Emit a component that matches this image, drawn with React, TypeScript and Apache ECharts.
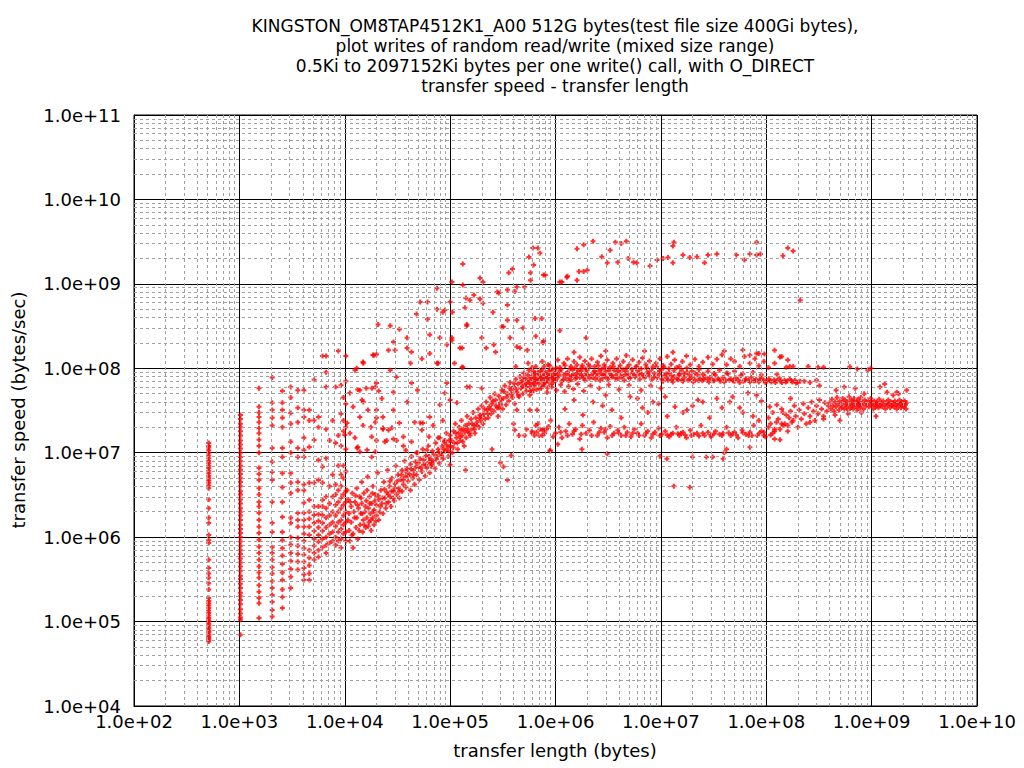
import React, { useEffect, useRef } from "react";
import * as echarts from "echarts";

const titleLines = [
  "KINGSTON_OM8TAP4512K1_A00 512G bytes(test file size 400Gi bytes),",
  "plot writes of random read/write (mixed size range)",
  "0.5Ki to 2097152Ki bytes per one write() call, with O_DIRECT",
  "transfer speed - transfer length",
];
const xAxisName = "transfer length (bytes)";
const yAxisName = "transfer speed (bytes/sec)";
const xMin = 1e2;
const xMax = 1e10;
const yMin = 1e4;
const yMax = 1e11;
const xDecades = [1e2, 1e3, 1e4, 1e5, 1e6, 1e7, 1e8, 1e9];
const yDecades = [1e4, 1e5, 1e6, 1e7, 1e8, 1e9, 1e10];
const minorFactors = [2, 3, 4, 5, 6, 7, 8, 9];

// small fixed transfer lengths (multiples of 512 bytes) and their measured speeds
const fixedLengths = [512, 1024, 1536, 2048, 2560, 3072, 3584, 4096, 4608, 5120, 5632, 6144, 6656, 7168, 7680, 8192, 8704, 9216, 9728, 10240];
const fixedSpeeds: number[][] = [
  [1.3e7, 1.2e7, 1.15e7, 1.07e7, 1e7, 9.3e6, 8.6e6, 8e6, 7.5e6, 7e6, 6.6e6, 6.1e6, 5.7e6, 5.3e6, 5e6, 4.7e6, 4.4e6, 4.1e6, 3.8e6, 2.8e6, 2.2e6, 1.7e6, 1.47e6, 1.06e6, 9.2e5, 8.5e5, 5.4e5, 4.3e5, 3.7e5, 3.3e5, 2.85e5, 2.4e5, 1.9e5, 1.75e5, 1.65e5, 1.55e5, 1.45e5, 1.35e5, 1.26e5, 1.18e5, 1.1e5, 1.04e5, 1e5, 9.4e4, 8.9e4, 8.4e4, 7.9e4, 7.5e4, 7.1e4, 6.7e4, 6.4e4, 6.1e4, 5.8e4],
  [2.8e7, 2.5e7, 2.2e7, 2e7, 1.8e7, 1.6e7, 1.4e7, 1.25e7, 1.12e7, 1e7, 8.9e6, 7.9e6, 7e6, 6.3e6, 5.6e6, 5e6, 4.5e6, 4e6, 3.5e6, 3.2e6, 2.8e6, 2.5e6, 2.2e6, 2e6, 1.8e6, 1.6e6, 1.4e6, 1.25e6, 1.12e6, 1e6, 8.9e5, 7.9e5, 7e5, 6.3e5, 5.6e5, 5e5, 4.5e5, 4e5, 3.5e5, 3.2e5, 2.8e5, 2.5e5, 2.2e5, 2e5, 1.8e5, 1.6e5, 1.4e5, 1.25e5, 1.12e5, 1.05e5, 7e4],
  [5.8e7, 3.5e7, 3e7, 2.65e7, 2.3e7, 1.95e7, 1.7e7, 1.42e7, 1.2e7, 1e7, 6.6e6, 5.6e6, 4.75e6, 3.8e6, 3.2e6, 2.6e6, 2.3e6, 1.93e6, 1.6e6, 1.33e6, 1.12e6, 9.3e5, 7.7e5, 6.5e5, 5.4e5, 4.5e5, 3.8e5, 3.3e5, 2.7e5, 2.25e5, 1.9e5, 1.65e5, 1.1e5],
  [7.8e7, 3.9e7, 3.2e7, 2.6e7, 2.1e7, 1.14e7, 7.8e6, 5.9e6, 4.75e6, 2.6e6, 1.47e6, 1.15e6, 7.6e5, 6.5e5, 5.4e5, 4.4e5, 3.7e5, 3e5, 2.5e5, 2.07e5, 1.7e5, 1.37e5, 1.15e5],
  [5.4e7, 3.9e7, 3.2e7, 2.6e7, 2e7, 1.14e7, 8.9e6, 5.7e6, 3.9e6, 2.6e6, 1.73e6, 1.15e6, 9.2e5, 7.4e5, 6e5, 4.8e5, 3.8e5, 3.1e5, 2.4e5, 1.95e5, 1.45e5],
  [6e7, 4.5e7, 2.95e7, 2.2e7, 1.35e7, 1e7, 5.7e6, 4.4e6, 3.3e6, 1.7e6, 1.47e6, 1e6, 8.1e5, 6.5e5, 5.2e5, 4.2e5, 3.4e5, 2.5e5],
  [5.5e7, 3.4e7, 2.3e7, 1.14e7, 8.9e6, 4.5e6, 3.6e6, 1.93e6, 1.6e6, 1.33e6, 9.8e5, 7.9e5, 6.3e5, 5.1e5, 4.1e5],
  [5.5e7, 3.2e7, 2.65e7, 1.5e7, 1.07e7, 8.9e6, 4.2e6, 3.6e6, 2.55e6, 1.93e6, 1.6e6, 1.33e6, 1.1e6, 9e5, 7.4e5, 6.2e5, 5.1e5, 4.3e5, 3.6e5, 3.1e5],
  [3.2e7, 2.4e7, 1.17e7, 4.4e6, 2.75e6, 2e6, 1.65e6, 1.33e6, 1.06e6, 7e5, 5.7e5, 4.6e5, 3.7e5, 3.1e5],
  [7.3e7, 2.4e7, 1.41e7, 4.4e6, 2.3e6, 1.83e6, 1.47e6, 1.18e6, 9.5e5, 7.9e5, 6.5e5, 5.4e5],
  [2.65e7, 2e7, 8.2e6, 4.75e6, 2.3e6, 1.87e6, 1.55e6, 1.3e6, 1.06e6, 8.8e5, 7e5, 5.8e5],
  [1.4e8, 6.8e6, 4.4e6, 2.75e6, 2.3e6, 1.83e6, 1.47e6, 1.18e6, 9.5e5, 7.6e5],
  [1.4e8, 9e7, 6e7, 1.9e7, 8.6e6, 3e6, 2.2e6, 1.7e6, 1.3e6, 1e6, 8e5, 6.5e5],
  [1.4e7, 4e6, 2.5e6, 1.8e6, 1.4e6, 1.1e6, 8.5e5],
  [2.4e7, 5.5e6, 3e6, 2e6, 1.5e6, 1.15e6, 9e5],
  [6e7, 1.3e7, 4.2e6, 3.2e6, 2.4e6, 1.8e6, 1.35e6, 1e6, 8e5],
  [1.6e8, 1.6e7, 7e6, 3.6e6, 2.6e6, 2e6, 1.5e6, 1.15e6, 9e5],
  [6.3e7, 2.9e7, 1.2e7, 5.5e6, 4e6, 2.9e6, 2.2e6, 1.6e6, 1.25e6, 9.5e5, 7.5e5],
  [4.5e7, 2.4e7, 1.8e7, 7e6, 5e6, 3.2e6, 2.4e6, 1.8e6, 1.4e6, 1.1e6],
  [1.4e8, 7e7, 3.8e7, 2e7, 1.1e7, 6e6, 3.5e6, 2.6e6, 2e6, 1.5e6, 1.15e6, 9e5],
];

// rising part, 10k .. 100k
const rampLow: [number, number][] = [
  [1.05e4, 3.6e6], [1.08e4, 2.8e6], [1.1e4, 1.9e6], [1.1e4, 1.2e6], [1.12e4, 9e5], [1.15e4, 1.5e6], [1.15e4, 2.3e6], [1.18e4, 3.3e6], [1.2e4, 1.1e6], [1.2e4, 7.5e5],
  [1.22e4, 2e6], [1.25e4, 2.6e6], [1.28e4, 1.3e6], [1.3e4, 3.8e6], [1.3e4, 1.7e6], [1.33e4, 9.5e5], [1.35e4, 2.2e6], [1.38e4, 3e6], [1.4e4, 1.4e6], [1.42e4, 1.9e6],
  [1.45e4, 4.5e6], [1.45e4, 2.5e6], [1.48e4, 1.15e6], [1.5e4, 1.6e6], [1.52e4, 3.3e6], [1.55e4, 2e6], [1.58e4, 1.3e6], [1.6e4, 2.7e6], [1.62e4, 1.7e6], [1.65e4, 5.2e6],
  [1.68e4, 2.2e6], [1.7e4, 1.5e6], [1.72e4, 3e6], [1.75e4, 1.9e6], [1.78e4, 1.2e6], [1.8e4, 2.5e6], [1.85e4, 4e6], [1.85e4, 1.7e6], [1.9e4, 2.1e6], [1.9e4, 1.4e6],
  [1.95e4, 3.2e6], [2e4, 2.4e6], [2e4, 1.8e6], [2.05e4, 5.8e6], [2.1e4, 2.8e6], [2.1e4, 1.6e6], [2.15e4, 2e6], [2.2e4, 3.6e6], [2.25e4, 2.5e6], [2.3e4, 1.9e6],
  [2.35e4, 4.5e6], [2.4e4, 2.9e6], [2.45e4, 2.2e6], [2.5e4, 3.4e6], [2.55e4, 6.2e6], [2.6e4, 2.6e6], [2.65e4, 4e6], [2.7e4, 3e6], [2.75e4, 2.3e6], [2.8e4, 5e6],
  [2.9e4, 3.5e6], [2.95e4, 2.7e6], [3e4, 4.3e6], [3.05e4, 7e6], [3.1e4, 3.2e6], [3.2e4, 5.5e6], [3.25e4, 3.8e6], [3.3e4, 2.9e6], [3.4e4, 4.8e6], [3.5e4, 6.2e6],
  [3.5e4, 3.5e6], [3.6e4, 4.2e6], [3.7e4, 8e6], [3.75e4, 5.2e6], [3.8e4, 3.9e6], [3.9e4, 6.5e6], [4e4, 4.6e6], [4.1e4, 5.6e6], [4.2e4, 7.3e6], [4.2e4, 3.6e6],
  [4.3e4, 9e6], [4.4e4, 5e6], [4.5e4, 6.2e6], [4.6e4, 4.2e6], [4.7e4, 7.8e6], [4.8e4, 5.5e6], [4.9e4, 1e7], [5e4, 6.8e6], [5.1e4, 4.8e6], [5.2e4, 8.5e6],
  [5.4e4, 6e6], [5.5e4, 1.1e7], [5.6e4, 7.2e6], [5.8e4, 5.3e6], [5.9e4, 9.2e6], [6e4, 6.6e6], [6.2e4, 1.2e7], [6.3e4, 7.8e6], [6.4e4, 5.8e6], [6.5e4, 8.5e6],
  [6.6e4, 6.9e6], [6.7e4, 7.3e6], [6.8e4, 1.05e7], [7e4, 8e6], [7.2e4, 6.5e6], [7.3e4, 1.3e7], [7.5e4, 9e6], [7.7e4, 1.1e7], [7.9e4, 7.5e6], [8e4, 1.5e7],
  [8.2e4, 9.8e6], [8.4e4, 1.2e7], [8.6e4, 8.5e6], [8.8e4, 1.35e7], [9e4, 1.05e7], [9.2e4, 1.7e7], [9.4e4, 1.15e7], [9.6e4, 9e6], [9.8e4, 1.4e7], [1e5, 1.2e7], [1e5, 1.6e7],
  [1.07e4, 1.6e6], [1.13e4, 2.6e6], [1.17e4, 1.05e6], [1.24e4, 1.7e6], [1.27e4, 3.1e6], [1.32e4, 2.4e6], [1.37e4, 1.2e6], [1.43e4, 2.9e6], [1.47e4, 1.9e6], [1.53e4, 1.4e6],
  [1.57e4, 2.3e6], [1.63e4, 3.6e6], [1.67e4, 1.35e6], [1.73e4, 2.5e6], [1.77e4, 1.6e6], [1.83e4, 3.3e6], [1.88e4, 2e6], [1.93e4, 2.7e6], [1.98e4, 1.55e6], [2.08e4, 3.1e6],
  [2.18e4, 2.3e6], [2.28e4, 2.9e6], [2.38e4, 3.7e6], [2.48e4, 2.5e6], [2.58e4, 3.2e6], [2.68e4, 4.6e6], [2.78e4, 3.5e6], [2.88e4, 2.9e6], [3e4, 3.8e6], [3.15e4, 4.6e6],
  [3.3e4, 3.5e6], [3.45e4, 5.5e6], [3.6e4, 4.8e6], [3.8e4, 6e6], [4e4, 5.3e6], [4.25e4, 6.4e6], [4.5e4, 5.5e6], [4.75e4, 6.8e6], [5e4, 7.6e6], [5.3e4, 6.6e6],
  [5.6e4, 8.2e6], [5.9e4, 7.2e6], [6.3e4, 9e6], [6.6e4, 7.8e6], [7e4, 9.6e6], [7.4e4, 8.4e6], [7.8e4, 1.02e7], [8.3e4, 9.2e6], [8.7e4, 1.1e7], [9.2e4, 1.25e7], [9.7e4, 1.05e7],
];

// rising part, 100k .. 1M
const rampHigh: [number, number][] = [
  [1.05e5, 1e7], [1.08e5, 1.8e7], [1.1e5, 1.3e7], [1.12e5, 2.2e7], [1.15e5, 1.5e7], [1.18e5, 1.1e7], [1.2e5, 1.7e7], [1.22e5, 2e7], [1.25e5, 1.4e7], [1.28e5, 2.4e7],
  [1.3e5, 1.6e7], [1.33e5, 1.9e7], [1.36e5, 1.2e7], [1.4e5, 2.1e7], [1.42e5, 1.5e7], [1.45e5, 2.7e7], [1.48e5, 1.8e7], [1.5e5, 2.2e7], [1.55e5, 1.6e7], [1.58e5, 2.5e7],
  [1.6e5, 1.9e7], [1.65e5, 3e7], [1.68e5, 2.1e7], [1.72e5, 1.7e7], [1.75e5, 2.6e7], [1.8e5, 2.3e7], [1.85e5, 3.3e7], [1.88e5, 2e7], [1.92e5, 2.8e7], [1.95e5, 2.4e7],
  [2e5, 3.6e7], [2.05e5, 2.2e7], [2.1e5, 2.9e7], [2.15e5, 2.5e7], [2.2e5, 4e7], [2.25e5, 3.2e7], [2.3e5, 2.6e7], [2.35e5, 3.5e7], [2.4e5, 4.5e7], [2.45e5, 2.9e7],
  [2.5e5, 3.8e7], [2.6e5, 3.1e7], [2.65e5, 5e7], [2.7e5, 4.2e7], [2.8e5, 3.4e7], [2.85e5, 2.7e7], [2.9e5, 4.7e7], [3e5, 3.9e7], [3.1e5, 5.5e7], [3.15e5, 3.3e7],
  [3.2e5, 4.4e7], [3.3e5, 6.2e7], [3.4e5, 3.7e7], [3.5e5, 5e7], [3.6e5, 4.1e7], [3.7e5, 6.8e7], [3.8e5, 5.5e7], [3.9e5, 4.5e7], [4e5, 6e7], [4.1e5, 3.8e7],
  [4.2e5, 7.4e7], [4.3e5, 5.2e7], [4.4e5, 6.5e7], [4.5e5, 4.6e7], [4.6e5, 8e7], [4.7e5, 5.8e7], [4.8e5, 7e7], [4.9e5, 5e7], [5e5, 8.8e7], [5.1e5, 6.3e7],
  [5.2e5, 7.5e7], [5.3e5, 5.4e7], [5.5e5, 6.8e7], [5.6e5, 9.5e7], [5.7e5, 6e7], [5.8e5, 7.8e7], [6e5, 5.2e7], [6.1e5, 7e7], [6.2e5, 8.5e7], [6.3e5, 6.2e7],
  [6.5e5, 7.4e7], [6.6e5, 5.6e7], [6.8e5, 9e7], [7e5, 6.6e7], [7.1e5, 8e7], [7.3e5, 5.8e7], [7.5e5, 7.2e7], [7.7e5, 6.2e7], [7.9e5, 8.6e7], [8e5, 6.8e7],
  [8.2e5, 7.6e7], [8.4e5, 5.9e7], [8.6e5, 7e7], [8.8e5, 8.2e7], [9e5, 6.4e7], [9.2e5, 7.4e7], [9.5e5, 6.8e7], [9.7e5, 7.9e7], [1e6, 7.1e7],
  [2.5e5, 1.1e7], [3e5, 7.6e6], [3.8e5, 9.3e6], [3.5e5, 4.75e6], [1.4e5, 6.2e6], [1e5, 7.2e6], [5.1e5, 1.6e7], [6.6e5, 1.75e7], [7.5e5, 1.86e7], [8.9e5, 1.07e7],
  [5.7e5, 3.2e7], [4.1e5, 1.86e7], [4.5e5, 1.6e7], [5.3e5, 1.9e7], [6e5, 1.7e7], [6.5e5, 2.1e7], [7e5, 1.6e7], [7.8e5, 1.9e7], [3.2e5, 6.8e6], [4e5, 2.2e7],
  [1.03e5, 1.4e7], [1.07e5, 1.15e7], [1.13e5, 1.7e7], [1.17e5, 1.3e7], [1.24e5, 1.55e7], [1.27e5, 1.85e7], [1.32e5, 1.35e7], [1.38e5, 1.75e7], [1.44e5, 1.95e7], [1.52e5, 1.7e7],
  [1.62e5, 2.2e7], [1.7e5, 1.9e7], [1.78e5, 2.1e7], [1.9e5, 2.6e7], [2.02e5, 2.7e7], [2.12e5, 3.3e7], [2.28e5, 2.9e7], [2.42e5, 3.3e7], [2.55e5, 4.1e7], [2.72e5, 3.6e7], [2.9e5, 3.4e7],
  [3.05e5, 4.3e7], [3.25e5, 5.3e7], [3.45e5, 4.6e7], [3.65e5, 5.9e7], [3.85e5, 4.9e7], [4.05e5, 6.6e7], [4.25e5, 5.6e7], [4.45e5, 4.8e7], [4.65e5, 6.9e7], [4.85e5, 6.1e7],
  [5.05e5, 7.7e7], [5.25e5, 6.6e7], [5.45e5, 8.3e7], [5.65e5, 7.1e7], [5.9e5, 6.5e7], [6.15e5, 9.2e7], [6.4e5, 7.8e7], [6.7e5, 6.9e7], [6.95e5, 8.4e7], [7.2e5, 7.5e7],
  [7.45e5, 9.6e7], [7.75e5, 7.9e7], [8.1e5, 8.9e7], [8.45e5, 7.7e7], [8.75e5, 9.4e7], [9.1e5, 8.2e7], [9.4e5, 9.8e7], [9.8e5, 8.7e7], [4.2e5, 1.05e8], [5.5e5, 1.15e8],
  [6e5, 1.02e8], [7.8e5, 1.05e8], [8.8e5, 1.08e8],
];

// scattered points around the rising part
const rampOutliers: [number, number][] = [
  [1.85e4, 1.44e8], [2.07e4, 3.3e8], [2.7e4, 3.2e8], [3e4, 1.64e8], [3.3e4, 2.9e8], [3.9e4, 2.3e8], [5.2e4, 6.1e8], [6.1e4, 6.1e8], [4.8e4, 4.4e8], [6.1e4, 3.8e8],
  [7.5e4, 8.9e8], [7.5e4, 5e8], [8.9e4, 4.9e8], [1e5, 6.1e8], [1.04e5, 1.05e9], [1.32e5, 9.7e8], [1.41e5, 6.8e8], [1.44e5, 3.2e8], [1.68e5, 7.4e8], [2.05e5, 5.9e8],
  [2.55e5, 4.6e8], [2.8e5, 8e8], [3.5e5, 8.5e8], [4.3e5, 9.2e8], [5.1e5, 9.2e8], [3.5e5, 3.7e8], [4.9e5, 3e8], [6.4e5, 3.9e8], [7.4e5, 3.9e8], [6.4e4, 2.5e8],
  [8e4, 2.3e8], [9.3e4, 1.9e8], [1.04e5, 2.3e8], [1.3e5, 1.74e8], [1.32e5, 1.03e8], [2.2e5, 1.74e8], [2.7e5, 1.56e8], [3.2e5, 3.1e8], [3.7e5, 2.3e8], [4.6e5, 1.74e8],
  [5.4e5, 1.64e8], [7.6e5, 2e8], [7.7e4, 1.15e8], [4.2e4, 1.15e8], [2.7e4, 9.5e7], [1.49e4, 1.19e8], [1.25e4, 9.5e7], [1.39e4, 5.5e7], [1.81e4, 5.8e7], [2e4, 6.7e7],
  [3.1e4, 7.9e7], [4.3e4, 6.7e7], [4.9e4, 5.5e7], [2.9e4, 5.2e7], [3.9e4, 4e7], [1.46e4, 4.2e7], [2.25e4, 4.4e7], [1.12e4, 5.1e7], [1.2e4, 3.5e7], [1.66e4, 3.2e7],
  [2e4, 2.6e7], [1.12e4, 1.7e7], [1.39e4, 2.65e7], [1.49e4, 2.1e7], [2.3e4, 1.96e7], [1e4, 1.62e7], [1.31e4, 1.14e7], [1.63e4, 1.08e7], [2.6e4, 1.86e7], [3.3e4, 2.25e7],
  [5.2e4, 2.25e7], [6.4e4, 2.65e7], [8e4, 3.7e7], [8.9e4, 5.1e7], [1.16e5, 3.9e7], [1.54e5, 6e7], [2e5, 5.8e7], [3e5, 3.7e7], [4.3e5, 3.2e7], [5.7e5, 4.8e7],
  [1.5e4, 1.15e8], [1.3e4, 1e8], [1.9e4, 1.43e8], [2e4, 1.46e8], [2.6e4, 1.64e8], [2.9e4, 2.05e8], [3.9e4, 1.74e8], [4.3e4, 1.56e8], [5.4e4, 1.3e8], [6.4e4, 1.5e8],
  [7.5e4, 1.15e8], [1.04e5, 2.15e8], [1.24e5, 1.74e8], [1.1e5, 1.15e8], [1.3e5, 1.03e8], [1.33e4, 5.6e7], [1.6e4, 5.8e7], [1.95e4, 6e7], [2.1e4, 5.4e7], [1.5e4, 4e7],
  [2e4, 3.2e7], [2.9e4, 3.2e7], [2.3e4, 2.65e7], [1.95e4, 2.3e7], [1.05e4, 2.25e7], [1.25e4, 1.5e7], [1.77e4, 2e7], [2.3e4, 1.9e7], [2.8e4, 1.97e7], [1.8e4, 1.55e7],
  [2e4, 1.4e7], [2.4e4, 1.35e7], [2.9e4, 1.45e7], [1.33e4, 1.17e7], [1.39e4, 1.03e7], [1.95e4, 1.03e7], [1.8e4, 8.9e6], [2.5e4, 1.4e7], [3.1e4, 1.4e7], [3.6e4, 1.2e7],
  [4.3e4, 1.35e7], [3.8e4, 1.07e7], [4.8e4, 1e7], [6e4, 1.07e7], [3.6e4, 1.55e7], [4.6e4, 2.3e7], [5.5e4, 2.25e7], [5.4e4, 1.86e7], [6.9e4, 2.1e7], [6.3e4, 1.55e7],
  [7.7e4, 1.5e7], [8.5e4, 2.4e7], [8.9e4, 1.4e7], [1e5, 4.2e7], [9.3e4, 6.7e7], [1.44e5, 6e7], [1.1e6, 2.8e8], [1.95e6, 2.3e8],
  [1.92e5, 6.6e8], [2.9e5, 7.8e8], [4.1e5, 8.1e8], [8.5e4, 4.6e8], [1.05e5, 4.6e8], [1.54e5, 6.4e8], [1.38e5, 5.2e8], [3.5e5, 5.6e8], [4.3e5, 3.7e8], [1.44e5, 3.3e8],
  [3.1e5, 3.1e8], [2e5, 2.3e8], [2.6e5, 1.9e8], [4.3e5, 1.8e8], [6.5e5, 2.4e8], [7.7e5, 2.1e8],
];

// the bursts near 1e9 .. 3e9
const burstPoints: [number, number][] = [
  [1.32e5, 1.72e9], [1.92e5, 1.17e9], [2.05e5, 1.05e9], [3.9e5, 1.5e9], [3.6e5, 1.35e9], [5.6e5, 2.08e9], [6.1e5, 2.66e9], [6.8e5, 2.66e9], [7.1e5, 2.3e9], [6.2e5, 1.67e9],
  [5.8e5, 1.35e9], [5.8e5, 1.1e9], [7.7e5, 1.27e9], [8e5, 1.27e9], [1.1e6, 1.05e9], [1.15e6, 1.05e9], [1.28e6, 1.2e9], [1.3e6, 1.23e9], [1.6e6, 1.1e9], [1.67e6, 1.4e9],
  [1.85e6, 1.4e9], [2e6, 1.45e9], [1.6e6, 2.6e9], [1.85e6, 2.9e9], [2.27e6, 3.2e9], [2.75e6, 2.1e9], [3.1e6, 1.78e9], [3.3e6, 2.5e9], [3.7e6, 3.1e9], [4.2e6, 3e9],
  [3.9e6, 1.8e9], [4.7e6, 3.2e9], [4.9e6, 2e9], [5.5e6, 1.8e9], [5.9e6, 1.78e9], [7.9e6, 1.63e9], [9.2e6, 1.92e9], [1.05e7, 2e9], [1.17e7, 2.05e9], [1.3e7, 2.8e9],
  [1.33e7, 3.1e9], [1.3e7, 1.78e9], [1.62e7, 2.2e9], [1.88e7, 2.05e9], [2.2e7, 2.1e9], [2.6e7, 1.78e9], [2.8e7, 2.2e9], [3.4e7, 2.25e9], [5.2e7, 2.2e9], [6.2e7, 1.92e9],
  [7e7, 2.25e9], [8.1e7, 3.1e9], [8.1e7, 2.2e9], [8.8e7, 2.25e9], [1.44e8, 2.15e9], [1.6e8, 2.65e9], [1.8e8, 2.45e9], [2.1e8, 6.4e8],
];

// plateau, upper sub band
const plateauTop: [number, number][] = [
  [6.5e5, 1.05e8], [7.5e5, 1.2e8], [8.5e5, 1.1e8], [1.05e6, 1.25e8], [1.1e6, 1.02e8], [1.2e6, 1.15e8], [1.3e6, 1.3e8], [1.4e6, 1.05e8], [1.5e6, 1.2e8], [1.6e6, 1.1e8],
  [1.7e6, 1.35e8], [1.8e6, 1.08e8], [1.9e6, 1.22e8], [2.05e6, 1.12e8], [2.2e6, 1.3e8], [2.35e6, 1.05e8], [2.5e6, 1.18e8], [2.7e6, 1.4e8], [2.9e6, 1.1e8], [3.1e6, 1.25e8],
  [3.3e6, 1.03e8], [3.5e6, 1.15e8], [3.8e6, 1.3e8], [4.1e6, 1.08e8], [4.4e6, 1.2e8], [4.7e6, 1.42e8], [5e6, 1.1e8], [5.4e6, 1.26e8], [5.8e6, 1.04e8], [6.2e6, 1.18e8],
  [6.7e6, 1.32e8], [7.2e6, 1.1e8], [7.8e6, 1.22e8], [8.4e6, 1.05e8], [9e6, 1.15e8], [9.8e6, 1.3e8], [1.05e7, 1.08e8], [1.15e7, 1.38e8], [1.25e7, 1.12e8], [1.35e7, 1.25e8],
  [1.5e7, 1.05e8], [1.6e7, 1.2e8], [1.75e7, 1.4e8], [1.9e7, 1.1e8], [2.1e7, 1.28e8], [2.3e7, 1.05e8], [2.5e7, 1.18e8], [2.8e7, 1.35e8], [3.1e7, 1.12e8], [3.4e7, 1.28e8],
  [3.8e7, 1.45e8], [4.2e7, 1.1e8], [4.6e7, 1.3e8], [5e7, 1.2e8], [5.6e7, 1.05e8], [6.2e7, 1.38e8], [7e7, 1.15e8], [7.8e7, 1.3e8], [8.5e7, 1.07e8], [9.5e7, 1.2e8],
  [1.05e8, 1.02e8], [1.2e8, 1.15e8], [1.4e8, 1.38e8], [1.6e8, 1.25e8], [1.8e8, 1.05e8], [7e6, 1.6e8], [1.3e7, 1.55e8], [4e7, 1.6e8], [6e7, 1.65e8], [8.5e7, 1.5e8],
  [3e6, 1.6e8], [1.5e6, 1.55e8], [7e7, 1.43e8], [8.1e7, 1.5e8], [9.6e7, 1.48e8], [1.2e8, 1.64e8], [1.35e8, 1.36e8], [1.26e8, 8.5e7], [1.55e8, 1.03e8], [1.67e8, 1.05e8],
  [2.5e8, 1.05e8], [3.1e8, 1.03e8], [3.5e8, 1.03e8], [6.2e8, 1.04e8], [7.3e8, 9.8e7], [9.2e8, 9.5e7], [9.8e8, 1e8],
];

// plateau, main band near 7e7 .. 1e8
const plateauMain: [number, number][] = [
  [6e5, 7.8e7], [6.4e5, 8.8e7], [6.8e5, 7.2e7], [7.2e5, 9.2e7], [7.6e5, 8e7], [8e5, 6.9e7], [8.5e5, 8.5e7], [9e5, 9.5e7], [9.5e5, 7.5e7], [1e6, 8.8e7],
  [1.05e6, 7.8e7], [1.1e6, 9.2e7], [1.15e6, 7e7], [1.2e6, 8.4e7], [1.25e6, 7.6e7], [1.3e6, 9e7], [1.35e6, 8e7], [1.4e6, 7.3e7], [1.45e6, 9.6e7], [1.5e6, 8.3e7],
  [1.55e6, 7.5e7], [1.6e6, 8.8e7], [1.7e6, 7.8e7], [1.75e6, 9.3e7], [1.8e6, 8.1e7], [1.9e6, 7.2e7], [1.95e6, 8.7e7], [2e6, 9.5e7], [2.1e6, 7.6e7], [2.2e6, 8.4e7],
  [2.3e6, 9e7], [2.4e6, 7.4e7], [2.5e6, 8e7], [2.6e6, 9.4e7], [2.7e6, 8.6e7], [2.8e6, 7.6e7], [2.9e6, 8.2e7], [3e6, 9.2e7], [3.15e6, 7.4e7], [3.3e6, 8.6e7],
  [3.45e6, 7.9e7], [3.6e6, 9.5e7], [3.75e6, 8.3e7], [3.9e6, 7.5e7], [4.1e6, 8.9e7], [4.3e6, 8e7], [4.5e6, 7.2e7], [4.7e6, 9.2e7], [4.9e6, 8.4e7], [5.1e6, 7.6e7],
  [5.4e6, 8.8e7], [5.7e6, 7.9e7], [6e6, 9.4e7], [6.3e6, 7.4e7], [6.6e6, 8.5e7], [7e6, 7.7e7], [7.4e6, 9e7], [7.8e6, 8.1e7], [8.2e6, 7.3e7], [8.7e6, 8.7e7],
  [9.2e6, 7.8e7], [9.7e6, 9.3e7], [1.02e7, 7.4e7], [1.08e7, 8.2e7], [1.14e7, 7.6e7], [1.2e7, 8.8e7], [1.27e7, 7.3e7], [1.34e7, 8e7], [1.42e7, 7.5e7], [1.5e7, 8.6e7],
  [1.58e7, 7.2e7], [1.67e7, 7.8e7], [1.77e7, 9e7], [1.87e7, 7.4e7], [1.98e7, 7.9e7], [2.1e7, 7.3e7], [2.22e7, 8.4e7], [2.35e7, 7.6e7], [2.48e7, 7.1e7], [2.62e7, 8e7],
  [2.77e7, 7.4e7], [2.93e7, 7.8e7], [3.1e7, 7.2e7], [3.28e7, 8.3e7], [3.47e7, 7.5e7], [3.67e7, 7e7], [3.88e7, 7.8e7], [4.1e7, 7.3e7], [4.34e7, 8.6e7], [4.59e7, 7.5e7],
  [4.85e7, 7.1e7], [5.13e7, 7.7e7], [5.43e7, 7.3e7], [5.74e7, 8.2e7], [6.07e7, 7e7], [6.42e7, 7.5e7], [6.79e7, 7.2e7], [7.18e7, 7.8e7], [7.6e7, 7.1e7], [8.03e7, 7.4e7],
  [8.5e7, 6.9e7], [8.99e7, 7.6e7], [9.5e7, 7.2e7], [1e8, 7e7], [1.06e8, 7.5e7], [1.12e8, 6.9e7], [1.19e8, 7.3e7], [1.26e8, 7.1e7], [1.33e8, 7.6e7], [1.41e8, 6.8e7],
  [1.49e8, 7.2e7], [1.58e8, 7e7], [1.67e8, 7.4e7], [1.77e8, 6.9e7], [1.87e8, 7.2e7], [1.98e8, 6.8e7], [2.1e8, 7e7], [2.3e8, 7e7], [2.6e8, 6.8e7], [3e8, 7.2e7],
  [1.05e7, 7e7], [1.17e7, 7.2e7], [1.3e7, 6.9e7], [1.46e7, 7.3e7], [1.62e7, 7e7], [1.82e7, 7.2e7], [2.03e7, 6.9e7], [2.28e7, 7.1e7], [2.55e7, 7.4e7], [2.85e7, 6.9e7],
  [3.2e7, 7.1e7], [3.57e7, 7.3e7], [4e7, 6.9e7], [4.47e7, 7.2e7], [5e7, 7e7], [5.6e7, 6.8e7], [6.25e7, 7.2e7], [7e7, 6.9e7], [7.8e7, 7.1e7], [8.7e7, 7.3e7],
  [9.8e7, 6.8e7], [1.09e8, 7.1e7], [1.22e8, 6.8e7], [1.37e8, 7e7], [1.53e8, 6.9e7], [1.72e8, 7.1e7], [1.92e8, 6.7e7],
  [5.2e5, 6e7], [5.8e5, 5.4e7], [6.3e5, 6.6e7], [7e5, 5.8e7], [7.7e5, 6.3e7], [8.3e5, 5.2e7], [9.2e5, 6e7], [1.02e6, 5.5e7], [1.12e6, 6.4e7], [1.22e6, 5.3e7],
  [1.33e6, 6.1e7], [1.48e6, 5.7e7], [1.62e6, 6.5e7], [1.85e6, 5.4e7], [2.15e6, 6.2e7], [2.6e6, 5.8e7], [3.2e6, 6.4e7], [4e6, 5.6e7], [5e6, 6.3e7], [6.5e6, 5.5e7],
  [8e6, 6.2e7], [1e7, 5.8e7],
  [1.02e6, 1e8], [1.07e6, 8.3e7], [1.13e6, 9.7e7], [1.18e6, 7.3e7], [1.23e6, 1.08e8], [1.28e6, 8.6e7], [1.33e6, 7.1e7], [1.38e6, 9.9e7], [1.43e6, 8.2e7], [1.52e6, 1e8],
  [1.58e6, 7.9e7], [1.65e6, 9.4e7], [1.72e6, 8.5e7], [1.78e6, 1.02e8], [1.86e6, 7.6e7], [1.93e6, 9.8e7], [2.02e6, 8.3e7], [2.12e6, 1.05e8], [2.25e6, 7.8e7], [2.35e6, 9.3e7],
  [2.45e6, 8.7e7], [2.55e6, 1.07e8], [2.65e6, 7.2e7], [2.75e6, 9.8e7], [2.85e6, 8.4e7], [2.95e6, 1.03e8], [3.05e6, 7.8e7], [3.2e6, 9.5e7], [3.4e6, 8.2e7], [3.55e6, 1.05e8],
  [3.7e6, 7.6e7], [3.85e6, 9.2e7], [4e6, 1e8], [4.2e6, 7.9e7], [4.4e6, 9.6e7], [4.6e6, 8.5e7], [4.8e6, 1.03e8], [5e6, 7.7e7], [5.3e6, 9.7e7], [5.6e6, 8.3e7],
  [5.9e6, 1.05e8], [6.2e6, 8.7e7], [6.5e6, 9.9e7], [6.9e6, 8.2e7], [7.3e6, 1.02e8], [7.7e6, 8.8e7], [8.1e6, 9.6e7], [8.6e6, 7.9e7], [9.1e6, 1.04e8], [9.6e6, 8.5e7],
  [1.01e7, 9.6e7], [1.07e7, 1.03e8], [1.13e7, 8.6e7], [1.19e7, 9.9e7], [1.26e7, 8.1e7], [1.33e7, 9.4e7], [1.41e7, 1.02e8], [1.49e7, 8.3e7], [1.57e7, 9.5e7], [1.66e7, 8.6e7],
  [1.76e7, 1.01e8], [1.86e7, 8.4e7], [1.97e7, 9.3e7], [2.1e7, 8.8e7], [2.3e7, 9.6e7], [2.5e7, 8.5e7], [2.8e7, 9.2e7], [3.2e7, 8.7e7], [3.6e7, 9.5e7], [4.2e7, 8.8e7],
  [5e7, 9.2e7], [6e7, 8.6e7], [7.5e7, 9e7], [9e7, 8.4e7],
];

// plateau, scattered between the two bands
const plateauMiddle: [number, number][] = [
  [1.23e6, 3.3e7], [1.82e6, 2.8e7], [2.27e6, 4e7], [3.43e6, 3.2e7], [5.1e6, 4.6e7], [6.7e6, 3.4e7], [7.5e6, 3e7], [8.4e6, 4e7], [1.36e7, 3.5e7], [1.62e7, 3e7],
  [1.77e7, 3.2e7], [2.25e7, 4.2e7], [2.5e7, 4e7], [3.4e7, 4.4e7], [3.8e7, 3.4e7], [4.5e7, 4e7], [5.6e7, 3.4e7], [6e7, 3e7], [6.7e7, 5.1e7], [8.1e7, 4.8e7],
  [1.08e8, 3.5e7], [1.26e8, 3.7e7], [1.44e8, 3e7], [6.7e5, 3.2e7], [6.1e5, 5.5e7], [1.5e6, 4.2e7], [2.8e6, 3.6e7], [4.2e6, 2.6e7], [9.5e6, 3.8e7], [1.15e7, 2.7e7],
  [2e7, 3.6e7], [2.9e7, 2.6e7], [4.8e7, 4.6e7], [7.5e7, 2.7e7], [9e7, 4.1e7], [1.7e8, 4.4e7], [3e6, 4.8e7], [6e6, 4.4e7], [1.1e7, 4.6e7],
];

// plateau, lower band near 1.7e7
const plateauLow: [number, number][] = [
  [6e5, 1.8e7], [6.8e5, 2.2e7], [7.5e5, 1.6e7], [8.2e5, 1.9e7], [9e5, 2.4e7], [1e6, 1.7e7], [1.08e6, 2e7], [1.15e6, 1.5e7], [1.25e6, 1.8e7], [1.35e6, 2.2e7],
  [1.45e6, 1.65e7], [1.55e6, 1.9e7], [1.7e6, 1.45e7], [1.8e6, 2.1e7], [1.95e6, 1.7e7], [2.1e6, 1.85e7], [2.3e6, 2.3e7], [2.5e6, 1.6e7], [2.7e6, 1.95e7], [2.9e6, 1.75e7],
  [3.1e6, 1.5e7], [3.3e6, 2.05e7], [3.6e6, 1.7e7], [3.9e6, 1.85e7], [4.2e6, 1.6e7], [4.5e6, 2e7], [4.8e6, 1.75e7], [5.2e6, 1.55e7], [5.6e6, 1.9e7], [6e6, 1.7e7],
  [6.5e6, 2.2e7], [7e6, 1.6e7], [7.5e6, 1.8e7], [8.1e6, 1.5e7], [8.8e6, 1.75e7], [9.5e6, 1.95e7], [1.02e7, 1.65e7], [1.1e7, 1.8e7], [1.2e7, 1.55e7], [1.3e7, 1.7e7],
  [1.4e7, 2e7], [1.5e7, 1.6e7], [1.62e7, 1.75e7], [1.75e7, 1.5e7], [1.9e7, 1.85e7], [2.05e7, 1.65e7], [2.2e7, 1.7e7], [2.4e7, 2.1e7], [2.6e7, 1.6e7], [2.8e7, 1.75e7],
  [3e7, 1.55e7], [3.3e7, 1.8e7], [3.6e7, 1.65e7], [3.9e7, 1.7e7], [4.2e7, 2e7], [4.6e7, 1.6e7], [5e7, 1.75e7], [5.4e7, 1.5e7], [5.9e7, 1.85e7], [6.4e7, 1.65e7],
  [7e7, 1.75e7], [7.6e7, 2.1e7], [8.2e7, 1.6e7], [9e7, 1.8e7], [9.8e7, 1.55e7], [1.05e8, 2e7], [1.15e8, 1.7e7], [1.25e8, 2.3e7], [1.35e8, 1.9e7], [1.5e8, 2.2e7],
  [1.65e8, 2.6e7], [1.8e8, 2.4e7], [1.15e7, 1.62e7], [1.45e7, 1.68e7], [1.7e7, 1.62e7], [2.3e7, 1.58e7], [3.2e7, 1.68e7], [4.4e7, 1.72e7], [5.2e7, 1.62e7], [6.8e7, 1.6e7],
  [8.6e7, 1.7e7], [1.1e8, 1.62e7], [8.5e7, 2.4e7], [9.5e7, 1.6e7], [1.2e8, 1.45e7],
  [6.3e5, 1.6e7], [7.1e5, 1.9e7], [7.9e5, 1.7e7], [8.6e5, 2.05e7], [9.5e5, 1.55e7], [1.12e6, 1.75e7], [1.3e6, 1.6e7], [1.5e6, 1.8e7], [1.75e6, 1.65e7], [2.2e6, 1.6e7],
  [2.6e6, 1.75e7], [3e6, 1.9e7], [3.45e6, 1.6e7], [4e6, 1.7e7], [4.65e6, 1.6e7], [5.4e6, 1.7e7], [6.2e6, 1.6e7], [7.2e6, 1.7e7], [8.4e6, 1.65e7], [9.8e6, 1.6e7],
  [1.25e7, 1.65e7], [1.55e7, 1.7e7], [1.95e7, 1.6e7], [2.5e7, 1.7e7], [3e7, 1.62e7], [3.8e7, 1.6e7], [4.8e7, 1.68e7], [6e7, 1.72e7], [7.3e7, 1.6e7], [9.5e7, 1.75e7],
  [1.2e8, 1.8e7], [1.4e8, 2.2e7], [1.6e8, 2.1e7],
  [9.8e6, 9.1e6], [1.14e7, 8.5e6], [2e7, 8.9e6], [2.7e7, 8.9e6], [3.1e7, 8.9e6], [3.9e7, 8.5e6], [1.33e7, 4e6], [1.88e7, 3.9e6], [4.2e7, 1.1e7], [4e7, 1e7],
  [8.9e5, 1.05e7], [1.05e6, 1.26e7], [1.78e6, 1.1e7], [3.1e6, 9.7e6], [7e7, 1.16e7], [1.35e8, 1.42e7],
];

// largest transfers, 100M .. 2G
const tailPoints: [number, number][] = [
  [1.05e8, 2.6e7], [1.1e8, 2.2e7], [1.15e8, 3e7], [1.2e8, 1.9e7], [1.3e8, 2.5e7], [1.4e8, 3.3e7], [1.45e8, 2.1e7], [1.55e8, 2.8e7], [1.6e8, 1.8e7], [1.7e8, 3.1e7],
  [1.75e8, 2.3e7], [1.85e8, 3.6e7], [1.9e8, 2.7e7], [2e8, 2e7], [2.05e8, 3.2e7], [2.15e8, 2.5e7], [2.25e8, 3.8e7], [2.3e8, 2.9e7], [2.4e8, 2.2e7], [2.5e8, 3.4e7],
  [2.6e8, 2.7e7], [2.7e8, 4e7], [2.8e8, 3.1e7], [2.9e8, 2.4e7], [3e8, 3.6e7], [3.1e8, 2.9e7], [3.2e8, 4.2e7], [3.35e8, 3.3e7], [3.5e8, 2.7e7], [3.6e8, 3.9e7],
  [3.75e8, 3.1e7], [3.9e8, 3.6e7], [4e8, 3.9e7], [4.1e8, 3.3e7], [4.2e8, 4.3e7], [4.3e8, 3.6e7], [4.4e8, 3.1e7], [4.5e8, 4e7], [4.6e8, 3.5e7], [4.7e8, 4.5e7],
  [4.8e8, 3.8e7], [4.9e8, 3.2e7], [5e8, 4.1e7], [5.1e8, 3.6e7], [5.2e8, 3.4e7], [5.3e8, 4.4e7], [5.4e8, 3.9e7], [5.5e8, 3.3e7], [5.6e8, 4.2e7], [5.7e8, 3.7e7],
  [5.8e8, 3.5e7], [5.9e8, 4e7], [6e8, 3.2e7], [6.1e8, 4.6e7], [6.2e8, 3.8e7], [6.3e8, 3.4e7], [6.4e8, 4.2e7], [6.5e8, 3.6e7], [6.6e8, 3.9e7], [6.7e8, 3.3e7],
  [6.8e8, 4.4e7], [6.9e8, 3.7e7], [7e8, 4.1e7], [7.1e8, 3.5e7], [7.2e8, 3.9e7], [7.3e8, 3.2e7], [7.4e8, 4.3e7], [7.5e8, 3.8e7], [7.6e8, 3.6e7], [7.7e8, 4e7],
  [7.8e8, 3.4e7], [7.9e8, 4.5e7], [8e8, 3.7e7], [8.2e8, 3.9e7], [8.4e8, 3.3e7], [8.6e8, 4.2e7], [8.8e8, 3.6e7], [9e8, 3.8e7], [9.2e8, 4.1e7], [9.4e8, 3.5e7],
  [9.6e8, 3.9e7], [9.8e8, 4.4e7], [1e9, 3.6e7], [1.02e9, 3.9e7], [1.04e9, 3.3e7], [1.06e9, 4.1e7], [1.08e9, 3.7e7], [1.1e9, 3.5e7], [1.12e9, 4e7], [1.14e9, 3.8e7],
  [1.16e9, 3.4e7], [1.18e9, 4.3e7], [1.2e9, 3.6e7], [1.23e9, 3.9e7], [1.26e9, 3.5e7], [1.29e9, 4.1e7], [1.32e9, 3.7e7], [1.35e9, 3.3e7], [1.38e9, 3.9e7], [1.41e9, 3.6e7],
  [1.44e9, 4.2e7], [1.47e9, 3.8e7], [1.5e9, 3.4e7], [1.53e9, 4e7], [1.56e9, 3.6e7], [1.6e9, 3.9e7], [1.63e9, 3.5e7], [1.66e9, 4.1e7], [1.7e9, 3.7e7], [1.73e9, 3.3e7],
  [1.76e9, 3.9e7], [1.8e9, 3.6e7], [1.84e9, 4.2e7], [1.87e9, 3.8e7], [1.9e9, 3.4e7], [1.94e9, 4e7], [1.97e9, 3.6e7], [2e9, 3.9e7], [2.03e9, 3.5e7], [2.06e9, 4.1e7],
  [2.09e9, 3.7e7], [2.12e9, 3.3e7], [2.14e9, 3.9e7], [1.33e9, 6.5e7], [1.73e9, 5.2e7], [2.15e9, 5.5e7], [1.2e9, 6e7], [1.4e9, 5.2e7], [1.8e9, 5e7], [1.6e9, 4.8e7],
  [4.6e8, 5.5e7], [5.5e8, 6e7], [7e8, 5.8e7], [8.5e8, 5e7], [3.2e8, 6.2e7], [2.6e8, 2.3e7], [3.5e8, 2.5e7], [4.5e8, 2.8e7], [6e8, 2.9e7], [8e8, 3e7],
  [1.1e9, 2.7e7], [5e8, 2.4e7],
];

const tickLabel = (v: number) => {
  const e = Math.round(Math.log10(v));
  return "1.0e+" + String(e).padStart(2, "0");
};

export default function App() {
  const ref = useRef<HTMLDivElement>(null);
  useEffect(() => {
    document.body.style.margin = "0";
    if (!ref.current) return;
    const chart = echarts.init(ref.current, null, { renderer: "svg" });
    const columnPoints: [number, number][] = [];
    fixedLengths.forEach((len, i) => fixedSpeeds[i].forEach((s) => columnPoints.push([len, s])));
    const allPoints = [
      ...columnPoints, ...rampLow, ...rampHigh, ...rampOutliers, ...burstPoints,
      ...plateauTop, ...plateauMain, ...plateauMiddle, ...plateauLow, ...tailPoints,
    ];
    const xMinor: number[] = [];
    xDecades.forEach((d) => minorFactors.forEach((f) => xMinor.push(d * f)));
    const yMinor: number[] = [];
    yDecades.forEach((d) => minorFactors.forEach((f) => yMinor.push(d * f)));
    const font = "DejaVu Sans";
    const titleSpacing = 19.8;
    chart.setOption({
      animation: false,
      textStyle: { fontFamily: font },
      grid: { left: 134, top: 115, width: 843, height: 591, show: true, borderColor: "#000", borderWidth: 1, backgroundColor: "transparent" },
      xAxis: {
        type: "log", logBase: 10, min: xMin, max: xMax, splitNumber: 8,
        axisLine: { lineStyle: { color: "#000", width: 1 } },
        axisTick: { inside: true, length: 7, lineStyle: { color: "#000" } },
        axisLabel: { formatter: tickLabel, color: "#000", fontSize: 18, fontFamily: font, margin: 6 },
        splitLine: { show: true, lineStyle: { color: "#000", width: 1 } },
      },
      yAxis: {
        type: "log", logBase: 10, min: yMin, max: yMax, splitNumber: 7,
        axisLine: { lineStyle: { color: "#000", width: 1 } },
        axisTick: { inside: true, length: 7, lineStyle: { color: "#000" } },
        axisLabel: { formatter: tickLabel, color: "#000", fontSize: 18, fontFamily: font, margin: 13 },
        splitLine: { show: true, lineStyle: { color: "#000", width: 1 } },
      },
      graphic: [
        ...titleLines.map((t, i) => ({
          type: "text", x: 555, y: 26.3 + i * titleSpacing,
          style: { text: t, fill: "#000", fontSize: 17, fontFamily: font, textAlign: "center", textVerticalAlign: "middle" },
        })),
        { type: "text", x: 555, y: 750, style: { text: xAxisName, fill: "#000", fontSize: 18, fontFamily: font, textAlign: "center", textVerticalAlign: "middle" } },
        { type: "text", x: 18, y: 410, rotation: Math.PI / 2, style: { text: yAxisName, fill: "#000", fontSize: 18, fontFamily: font, textAlign: "center", textVerticalAlign: "middle" } },
      ],
      series: [
        {
          type: "scatter", data: [], z: 1, silent: true,
          markLine: {
            silent: true, symbol: ["none", "none"], label: { show: false }, animation: false,
            lineStyle: { color: "#a0a0a0", type: [3, 3], width: 1 },
            emphasis: { disabled: true },
            data: [...xMinor.map((v) => ({ xAxis: v })), ...yMinor.map((v) => ({ yAxis: v }))],
          },
        },
        {
          type: "scatter", data: allPoints, z: 3, silent: true,
          symbol: "path://M0,1.5H5V3.5H0Z M1.5,0H3.5V5H1.5Z", symbolSize: 5,
          itemStyle: { color: "#ff0000" },
        },
      ],
    });
    return () => chart.dispose();
  }, []);
  return <div ref={ref} style={{ width: 1024, height: 768 }} />;
}
